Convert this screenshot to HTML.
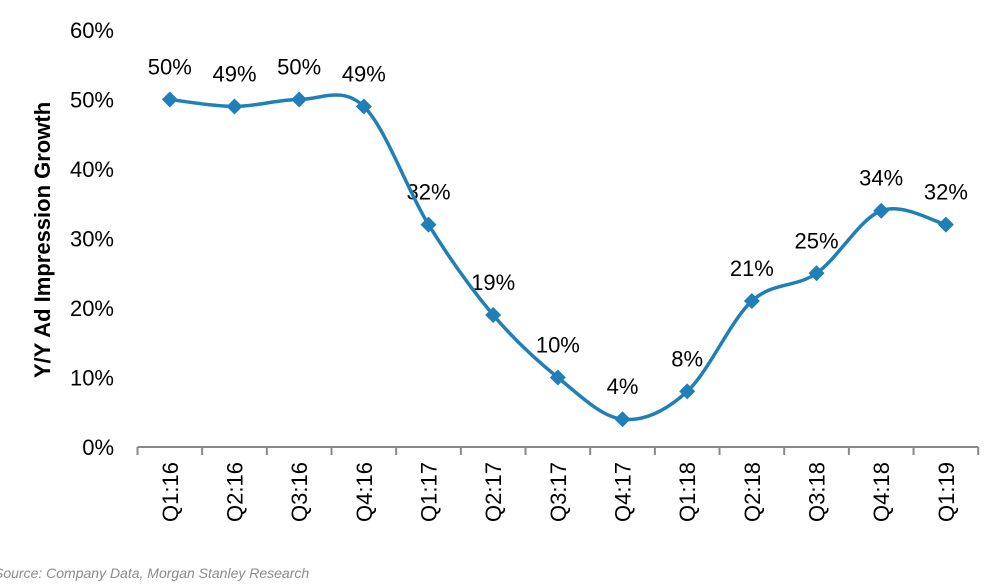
<!DOCTYPE html>
<html><head><meta charset="utf-8"><style>
html,body{margin:0;padding:0;background:#fff;}
svg{display:block;font-family:"Liberation Sans",Arial,sans-serif;}
</style></head><body>
<svg id="chart" width="1000" height="587" viewBox="0 0 1000 587" xmlns="http://www.w3.org/2000/svg">
<g id="yaxis"></g>
<g id="xaxis"></g>
<g id="labels"></g>
<path id="line" fill="none" stroke="#1f7fb6" stroke-width="3.5"/>
<g id="markers"></g>
<text transform="translate(50,240) rotate(-90)" text-anchor="middle" font-size="22" font-weight="bold" fill="#000">Y/Y Ad Impression Growth</text>
<text x="-6" y="578" font-size="14" font-style="italic" fill="#8a8a8a">Source: Company Data, Morgan Stanley Research</text>
</svg>
<script>
const categories=["Q1:16","Q2:16","Q3:16","Q4:16","Q1:17","Q2:17","Q3:17","Q4:17","Q1:18","Q2:18","Q3:18","Q4:18","Q1:19"];
const values=[50,49,50,49,32,19,10,4,8,21,25,34,32];
const yTicks=[0,10,20,30,40,50,60];
const NS="http://www.w3.org/2000/svg";
const x0=137.5,bw=64.67,yZero=447,yTop=30,yMax=60;
function xs(i){return x0+bw*(i+0.5);}
function ys(v){return yZero-(v/yMax)*(yZero-yTop);}
function mk(tag,attrs,parent){const e=document.createElementNS(NS,tag);for(const k in attrs)e.setAttribute(k,attrs[k]);parent.appendChild(e);return e;}
const ya=document.getElementById('yaxis');
yTicks.forEach(t=>{const e=mk('text',{x:114,y:ys(t)+8,'text-anchor':'end','font-size':22,fill:'#000'},ya);


e.textContent=t+'%';});
const xa=document.getElementById('xaxis');
const ax=mk('line',{x1:x0,y1:yZero,x2:x0+bw*categories.length,y2:yZero,stroke:'#888','stroke-width':2},xa);


for(let i=0;i<=categories.length;i++){const t=mk('line',{x1:x0+bw*i,y1:yZero,x2:x0+bw*i,y2:yZero+8,stroke:'#888','stroke-width':2},xa);

}
categories.forEach((c,i)=>{const e=mk('text',{transform:`translate(${xs(i)+8},462) rotate(-90)`,'text-anchor':'end','font-size':22,fill:'#000'},xa);


e.textContent=c;});
const lb=document.getElementById('labels');
values.forEach((v,i)=>{const e=mk('text',{x:xs(i),y:ys(v)-25,'text-anchor':'middle','font-size':22,fill:'#000'},lb);


e.textContent=v+'%';});
const P=values.map((v,i)=>[xs(i),ys(v)]);
let d=`M${P[0][0]},${P[0][1]}`;const k=1/6;
for(let i=0;i<P.length-1;i++){const p0=P[Math.max(i-1,0)],p1=P[i],p2=P[i+1],p3=P[Math.min(i+2,P.length-1)];
d+=` C${p1[0]+(p2[0]-p0[0])*k},${p1[1]+(p2[1]-p0[1])*k} ${p2[0]-(p3[0]-p1[0])*k},${p2[1]-(p3[1]-p1[1])*k} ${p2[0]},${p2[1]}`;}
document.getElementById('line').setAttribute('d',d);
const mg=document.getElementById('markers');
P.forEach(p=>{const s=8;const m=mk('polygon',{points:`${p[0]},${p[1]-s} ${p[0]+s},${p[1]} ${p[0]},${p[1]+s} ${p[0]-s},${p[1]}`,fill:'#1f7fb6'},mg);

});
</script>
</body></html>
